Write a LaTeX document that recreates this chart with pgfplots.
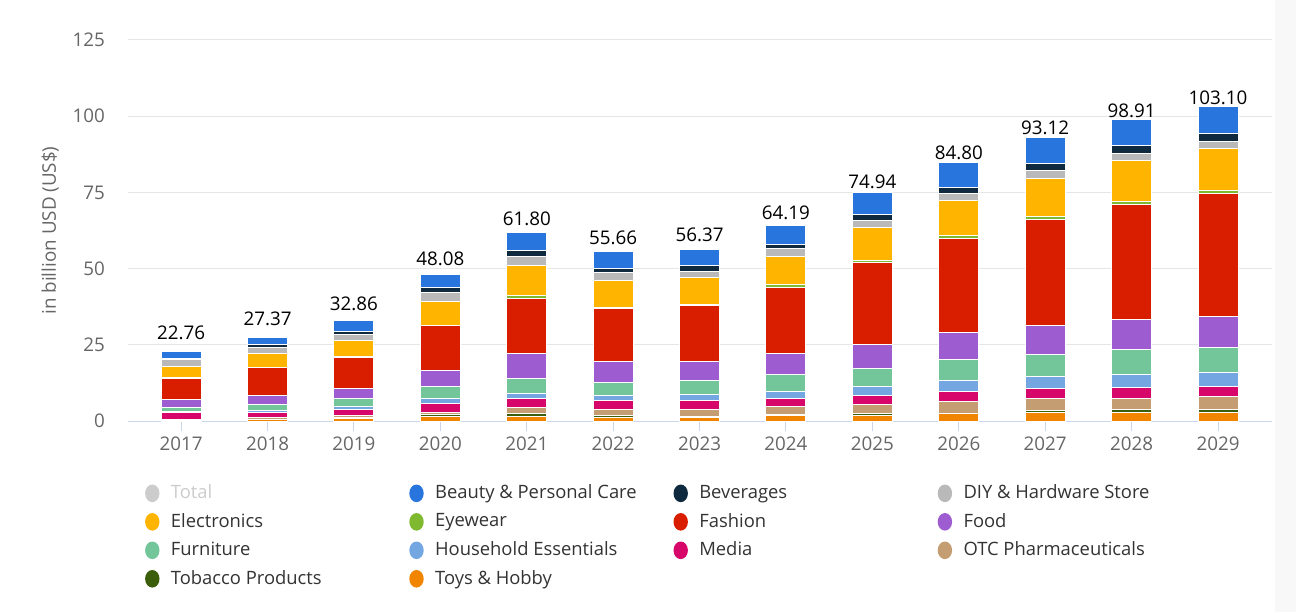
\documentclass[border=0pt]{standalone}
\usepackage{fontspec}
\setmainfont{Open Sans}
\usepackage{pgfplots}
\usepackage{pgfplotstable}
\pgfplotsset{compat=1.18}
\definecolor{cBeauty}{HTML}{2876DD}
\definecolor{cBev}{HTML}{0F2A3F}
\definecolor{cDIY}{HTML}{B9B9B9}
\definecolor{cElec}{HTML}{FFB400}
\definecolor{cEye}{HTML}{7FB92F}
\definecolor{cFash}{HTML}{D91E00}
\definecolor{cFood}{HTML}{9D5CCF}
\definecolor{cFurn}{HTML}{72C69A}
\definecolor{cHouse}{HTML}{74A7E2}
\definecolor{cMedia}{HTML}{D6066A}
\definecolor{cOTC}{HTML}{C59D72}
\definecolor{cTob}{HTML}{3B5E0B}
\definecolor{cToys}{HTML}{F28500}
\definecolor{cTotal}{HTML}{CCCCCC}
\definecolor{cGrid}{HTML}{E6E6E6}
\definecolor{cAxis}{HTML}{CCD6EB}
\definecolor{cTick}{HTML}{666666}
\definecolor{cLeg}{HTML}{333333}
\definecolor{cStrip}{HTML}{F8F8F8}

\pgfplotstableread{
x toys tobacco otc media household furniture food fashion eyewear electronics diy beverages beauty total
0  0.25 0.10 0.30 2.30 0.30 1.30 2.60 6.95  0.10 3.80  2.20 0.20 2.36 22.76
1  0.40 0.10 0.50 1.90 0.40 2.20 2.90 9.00  0.10 4.77  2.00 0.80 2.30 27.37
2  0.90 0.10 0.75 1.98 0.93 2.58 3.46 10.10 0.20 5.50  1.95 1.05 3.36 32.86
3  1.50 0.60 0.70 3.00 1.55 3.83 5.32 14.70 0.25 7.80  2.95 1.66 4.22 48.08
4  1.50 0.80 1.97 3.27 1.60 4.90 8.00 18.12 0.90 10.09 2.85 2.03 5.77 61.80
5  1.26 0.54 1.87 2.96 1.59 4.28 6.96 17.54 0.30 8.80  2.64 1.31 5.61 55.66
6  1.24 0.30 2.13 2.96 1.97 4.56 6.34 18.50 0.30 8.80  2.08 1.92 5.27 56.37
7  1.86 0.33 2.47 2.69 2.25 5.53 6.87 21.95 0.80 9.25  2.74 1.26 6.19 64.19
8  1.92 0.70 2.80 3.01 2.84 6.00 7.94 26.79 0.80 10.70 2.34 1.96 7.14 74.94
9  2.30 0.30 3.84 3.34 3.46 6.91 8.83 30.82 0.90 11.67 2.33 2.00 8.10 84.80
10 2.85 0.44 3.95 3.34 3.95 7.40 9.37 34.85 0.90 12.61 2.52 2.42 8.52 93.12
11 2.86 0.82 3.85 3.57 4.00 8.36 9.84 37.70 0.90 13.43 2.31 2.63 8.64 98.91
12 2.91 0.80 4.30 3.30 4.62 8.30 9.90 40.52 0.90 13.75 2.30 2.58 8.92 103.10
}\data

\pgfplotsset{
  seg/.style={fill=#1, draw=white, line width=0.5pt, forget plot},
  dotleg/.style={draw=none, fill=#1, legend image code/.code={\fill[#1] (3.6pt,0pt) ellipse (3.6pt and 4.4pt);}},
}

\begin{document}
\begin{tikzpicture}
\useasboundingbox (0,0) rectangle (648pt,306pt);
\fill[cStrip] (637.5pt,0pt) rectangle (648pt,306pt);
\begin{axis}[
  at={(64pt,95.5pt)}, anchor=south west,
  width=572pt, height=190.5pt, scale only axis,
  xmin=-0.615, xmax=12.625, ymin=0, ymax=125,
  ybar stacked, bar width=20pt,
  xtick={0,...,12},
  xticklabels={2017,2018,2019,2020,2021,2022,2023,2024,2025,2026,2027,2028,2029},
  ytick={0,25,50,75,100,125},
  /pgf/number format/assume math mode=true,
  axis x line*=bottom, axis y line*=left,
  separate axis lines,
  x axis line style={draw=cAxis, line width=0.5pt, -},
  y axis line style={draw=none},
  xtick style={draw=cAxis, line width=0.5pt},
  ytick style={draw=none},
  tick align=outside, major tick length=5pt,
  ymajorgrids, major grid style={draw=cGrid, line width=0.5pt},
  tick label style={font=\fontsize{9.4}{11}\selectfont, text=cTick},
  yticklabel style={xshift=-3pt},
  xticklabel style={yshift=0.5pt},
  ylabel={in billion USD (US\$)},
  every axis y label/.style={at={(axis description cs:-0.068,0.5)}, rotate=90, anchor=center, font=\fontsize{9.4}{11}\selectfont, text=cTick},
  legend columns=4,
  legend cell align=left,
  legend style={draw=none, fill=none, inner sep=0pt, at={(axis description cs:0.0146,-0.155)}, anchor=north west,
    font=\fontsize{9.2}{11}\selectfont, text=cLeg, row sep=1.35pt,
    nodes={inner sep=2.2pt},
    /tikz/every odd column/.append style={column sep=3.5pt}},
]
\addplot[seg=cToys] table[x=x, y=toys] {\data};
\addplot[seg=cTob] table[x=x, y=tobacco] {\data};
\addplot[seg=cOTC] table[x=x, y=otc] {\data};
\addplot[seg=cMedia] table[x=x, y=media] {\data};
\addplot[seg=cHouse] table[x=x, y=household] {\data};
\addplot[seg=cFurn] table[x=x, y=furniture] {\data};
\addplot[seg=cFood] table[x=x, y=food] {\data};
\addplot[seg=cFash] table[x=x, y=fashion] {\data};
\addplot[seg=cEye] table[x=x, y=eyewear] {\data};
\addplot[seg=cElec] table[x=x, y=electronics] {\data};
\addplot[seg=cDIY] table[x=x, y=diy] {\data};
\addplot[seg=cBev] table[x=x, y=beverages] {\data};
\addplot[seg=cBeauty, nodes near coords, point meta=explicit symbolic,
  nodes near coords style={font=\fontsize{9.4}{11}\selectfont, text=black, anchor=south, yshift=4pt}]
  table[x=x, y=beauty, meta=total] {\data};

\addlegendimage{dotleg=cTotal}\addlegendentry{\makebox[117pt][l]{\textcolor{cTotal}{Total}}}
\addlegendimage{dotleg=cBeauty}\addlegendentry{\makebox[117pt][l]{Beauty \& Personal Care}}
\addlegendimage{dotleg=cBev}\addlegendentry{\makebox[117pt][l]{Beverages}}
\addlegendimage{dotleg=cDIY}\addlegendentry{\makebox[117pt][l]{DIY \& Hardware Store}}
\addlegendimage{dotleg=cElec}\addlegendentry{Electronics}
\addlegendimage{dotleg=cEye}\addlegendentry{Eyewear}
\addlegendimage{dotleg=cFash}\addlegendentry{Fashion}
\addlegendimage{dotleg=cFood}\addlegendentry{Food}
\addlegendimage{dotleg=cFurn}\addlegendentry{Furniture}
\addlegendimage{dotleg=cHouse}\addlegendentry{Household Essentials}
\addlegendimage{dotleg=cMedia}\addlegendentry{Media}
\addlegendimage{dotleg=cOTC}\addlegendentry{OTC Pharmaceuticals}
\addlegendimage{dotleg=cTob}\addlegendentry{Tobacco Products}
\addlegendimage{dotleg=cToys}\addlegendentry{Toys \& Hobby}
\end{axis}
\end{tikzpicture}
\end{document}
